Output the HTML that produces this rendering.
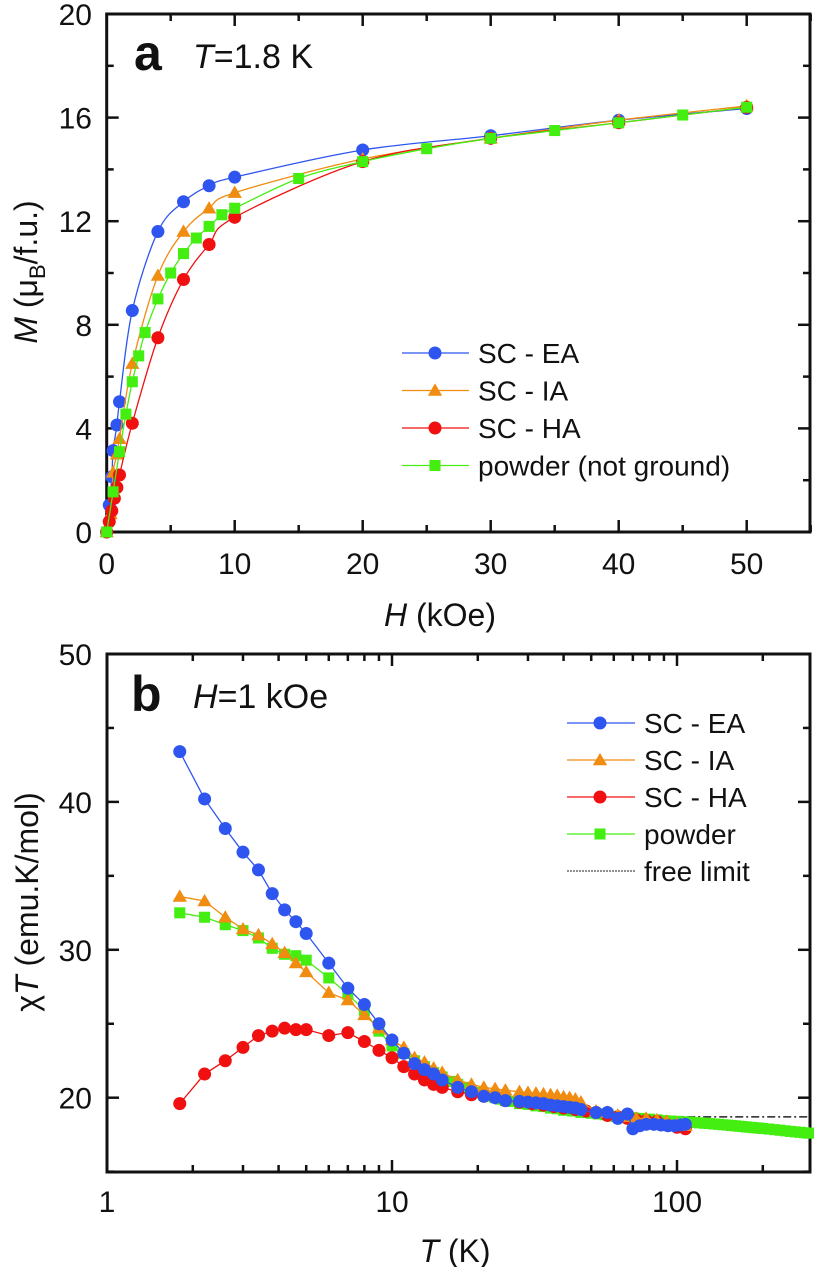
<!DOCTYPE html>
<html><head><meta charset="utf-8"><style>
html,body{margin:0;padding:0;background:#fff;}
svg{display:block;font-family:"Liberation Sans",Arial,sans-serif;}
</style></head><body>
<svg id="chart" width="814" height="1267" viewBox="0 0 814 1267">
<g id="pa"></g>
<g id="pb"></g>
</svg>
<script>
// ---- Panel a data: M vs H at 1.8 K ----
const aEA_H=[0,0.2,0.4,0.5,0.8,1,2,4,6,8,10,20,30,40,50];
const aEA_M=[0,1.04,2.13,3.14,4.13,5.03,8.55,11.6,12.75,13.37,13.7,14.75,15.3,15.9,16.35];
const aIA_H=[0,0.3,0.5,0.8,1,2,4,6,8,10,20,30,40,50];
const aIA_M=[0,0.7,2.3,3.0,3.6,6.5,9.9,11.6,12.5,13.1,14.4,15.2,15.9,16.45];
const aHA_H=[0,0.2,0.4,0.6,0.8,1,2,4,6,8,10,20,30,40,50];
const aHA_M=[0,0.4,0.82,1.3,1.72,2.2,4.2,7.5,9.75,11.1,12.15,14.3,15.2,15.8,16.4];
const aPW_H=[0,0.5,1,1.5,2,2.5,3,4,5,6,7,8,9,10,15,20,25,30,35,40,45,50];
const aPW_M=[0,1.55,3.1,4.55,5.8,6.8,7.7,9.0,10.0,10.75,11.35,11.8,12.25,12.5,13.65,14.3,14.8,15.2,15.5,15.8,16.1,16.4];
const aXTicks=[0,10,20,30,40,50];
const aYTicks=[0,4,8,12,16,20];
// ---- Panel b data: chiT vs T at 1 kOe ----
const bEA_T=[1.8,2.2,2.6,3,3.4,3.8,4.2,4.6,5,6,7,8,9,10,11,12,13,14,15,17,19,21,23,25,28,30,32,34,36,38,40,42,44,46,52,57,62,67,70,74,78,83,88,93,98,103,107];
const bEA_V=[43.4,40.2,38.2,36.6,35.4,33.8,32.7,31.9,31.1,29.1,27.4,26.3,25.0,23.9,23.0,22.3,21.9,21.6,21.2,20.7,20.4,20.1,20.0,19.8,19.75,19.7,19.65,19.6,19.5,19.45,19.4,19.35,19.3,19.2,19.0,19.0,18.6,18.9,17.9,18.1,18.2,18.2,18.15,18.1,18.1,18.15,18.2];
const bIA_T=[1.8,2.2,2.6,3,3.4,3.8,4.2,4.6,5,6,7,8,9,10,11,12,13,14,15,17,19,21,23,25,28,30,32,34,36,38,40,42,44,46,52,57,62,67,72,78,85,92,100,107];
const bIA_V=[33.6,33.3,32.2,31.4,31.0,30.4,29.8,29.1,28.5,27.1,26.6,25.6,24.7,23.9,23.4,22.7,22.4,22.0,21.7,21.2,20.9,20.7,20.6,20.5,20.4,20.35,20.3,20.25,20.2,20.15,20.05,20.0,19.9,19.7,19.1,19.0,18.8,18.7,18.6,18.6,18.5,18.4,18.2,18.1];
const bHA_T=[1.8,2.2,2.6,3,3.4,3.8,4.2,4.6,5,6,7,8,9,10,11,12,13,14,15,17,19,21,25,28,31,34,37,40,44,48,52,57,62,67,72,78,85,92,100,107];
const bHA_V=[19.6,21.6,22.5,23.4,24.2,24.5,24.7,24.6,24.6,24.2,24.4,23.8,23.2,22.7,22.1,21.6,21.2,20.9,20.7,20.4,20.2,20.1,19.8,19.7,19.6,19.5,19.4,19.3,19.2,19.1,19.0,18.8,18.7,18.6,18.5,18.45,18.4,18.2,18.0,17.9];
const bPW_T=[1.8,2.2,2.6,3,3.4,3.8,4.2,4.6,5,6,7,8,9,10,11,12,13,14,15,16,17,18,19,20,21,22,23,24,25,26,28,30,32,34,36,38,40,43,46,50,53,56,60,65,70,75,80,85,90,95,100,105,110,115,120,125,130,135,140,145,150,155,160,165,170,175,180,185,190,195,200,210,220,230,240,250,260,270,280,290];
const bPW_V=[32.5,32.2,31.7,31.3,30.8,30.1,29.7,29.6,29.3,28.1,27.0,25.9,24.5,23.5,23.0,22.5,22.1,21.7,21.4,21.1,20.9,20.7,20.5,20.35,20.2,20.1,20.0,19.9,19.8,19.75,19.6,19.55,19.45,19.4,19.3,19.25,19.15,19.1,19.0,18.95,18.9,18.85,18.75,18.7,18.65,18.6,18.55,18.5,18.45,18.42,18.4,18.37,18.35,18.32,18.3,18.27,18.25,18.22,18.2,18.17,18.15,18.12,18.1,18.07,18.05,18.02,18.0,17.98,17.96,17.94,17.92,17.88,17.84,17.8,17.76,17.72,17.69,17.66,17.63,17.6];
const bFree_T=[50,293];
const bFree_V=[18.7,18.7];
const bYTicks=[20,30,40,50];
const bXTicks=[1,10,100];

const NS="http://www.w3.org/2000/svg";
function mk(tag,attrs,parent){const e=document.createElementNS(NS,tag);for(const k in attrs)e.setAttribute(k,attrs[k]);parent.appendChild(e);return e;}
const BLUE="#2f55f0",ORANGE="#f08c10",RED="#f01010",GREEN="#44ee10";

const ax=h=>106.7+h*12.8;
const ay=m=>532-m*25.9;
const bx=t=>107+Math.log10(t)*285;
const by=v=>1097.7-(v-20)*14.79;

function marker(g,shape,x,y,color,s){
  let e;
  if(shape==="circle"){e=mk("circle",{cx:x,cy:y,r:s,fill:color},g);}
  else if(shape==="square"){e=mk("rect",{x:x-s*0.85,y:y-s*0.85,width:s*1.7,height:s*1.7,fill:color},g);}
  else {e=mk("polygon",{points:`${x},${y-s*1.1} ${x+s*1.1},${y+s*0.8} ${x-s*1.1},${y+s*0.8}`,fill:color},g);}
  return e;
}
function smoothPath(pts){
  let d=`M${pts[0][0]},${pts[0][1]}`;
  for(let i=0;i<pts.length-1;i++){
    const p0=pts[Math.max(0,i-1)],p1=pts[i],p2=pts[i+1],p3=pts[Math.min(pts.length-1,i+2)];
    const c1x=p1[0]+(p2[0]-p0[0])/6,c1y=p1[1]+(p2[1]-p0[1])/6;
    const c2x=p2[0]-(p3[0]-p1[0])/6,c2y=p2[1]-(p3[1]-p1[1])/6;
    d+=` C${c1x},${c1y} ${c2x},${c2y} ${p2[0]},${p2[1]}`;
  }
  return d;
}
function series(g,name,xs,ys,fx,fy,color,shape,smooth){
  const sg=mk("g",{},g);
  
  
  const pts=xs.map((x,i)=>[fx(x),fy(ys[i])]);
  const d=smooth?smoothPath(pts):"M"+pts.map(p=>p.join(",")).join(" L");
  const ln=mk("path",{d:d,fill:"none",stroke:color,"stroke-width":1.3},sg);
  
  
  pts.forEach(p=>{
    const m=marker(sg,shape,p[0],p[1],color,6.5);
    
    
  });
}
function text(g,x,y,str,size,anchor,name,extra){
  const t=mk("text",Object.assign({x:x,y:y,"font-size":size,"text-anchor":anchor||"start",fill:"#111"},extra||{}),g);
  t.innerHTML=str;
  
  
  return t;
}

// ===== Panel a =====
const pa=document.getElementById("pa");
const L=106.7,R=810;
const fa=mk("rect",{x:L,y:14,width:R-L,height:532-14,fill:"none",stroke:"#111","stroke-width":3},pa);

for(let h=0;h<=55;h+=5){const len=(h%10===0)?12:7;const x=ax(h);
  mk("line",{x1:x,y1:532,x2:x,y2:532-len,stroke:"#111","stroke-width":2.5},pa);
  mk("line",{x1:x,y1:14,x2:x,y2:14+len,stroke:"#111","stroke-width":2.5},pa);}
for(let m=0;m<=20;m+=2){const len=(m%4===0)?12:7;const y=ay(m);
  mk("line",{x1:L,y1:y,x2:L+len,y2:y,stroke:"#111","stroke-width":2.5},pa);
  mk("line",{x1:R,y1:y,x2:R-len,y2:y,stroke:"#111","stroke-width":2.5},pa);}
aXTicks.forEach(h=>text(pa,ax(h),574,String(h),30,"middle","x-tick-label-a"));
aYTicks.forEach(m=>text(pa,92,ay(m)+11,String(m),30,"end","y-tick-label-a"));
text(pa,440,626,'<tspan font-style="italic">H</tspan> (kOe)',32,"middle","x-axis-title-a");
text(pa,0,0,'<tspan font-style="italic">M</tspan> (μ<tspan font-size="22" dy="8">B</tspan><tspan dy="-8">/f.u.)</tspan>',32,"middle","y-axis-title-a",{transform:"translate(37,272) rotate(-90)"});
text(pa,134,70,"a",50,"start","panel-a-label",{"font-weight":"bold"});
text(pa,193,68,'<tspan font-style="italic">T</tspan>=1.8 K',34,"start","panel-a-condition");
series(pa,"series-a-ea",aEA_H,aEA_M,ax,ay,BLUE,"circle",true);
series(pa,"series-a-ia",aIA_H,aIA_M,ax,ay,ORANGE,"tri",true);
series(pa,"series-a-ha",aHA_H,aHA_M,ax,ay,RED,"circle",true);
series(pa,"series-a-powder",aPW_H,aPW_M,ax,ay,GREEN,"square",true);
const legA=[["SC - EA",BLUE,"circle"],["SC - IA",ORANGE,"tri"],["SC - HA",RED,"circle"],["powder (not ground)",GREEN,"square"]];
legA.forEach((it,i)=>{const y=353+i*37.5;const g=mk("g",{},pa);
  
  mk("line",{x1:402,y1:y,x2:469,y2:y,stroke:it[1],"stroke-width":1.3},g);
  marker(g,it[2],435,y,it[1],6.5);
  text(g,478,y+10,it[0],28,"start","legend-a-label");});

// ===== Panel b =====
const pb=document.getElementById("pb");
const T=654,B=1172;
const fb=mk("rect",{x:107,y:T,width:R-107,height:B-T,fill:"none",stroke:"#111","stroke-width":3},pb);

for(let v=15;v<=50;v+=5){const len=(v%10===0)?12:7;const y=by(v);
  mk("line",{x1:107,y1:y,x2:107+len,y2:y,stroke:"#111","stroke-width":2.5},pb);
  mk("line",{x1:R,y1:y,x2:R-len,y2:y,stroke:"#111","stroke-width":2.5},pb);}
for(let dec=1;dec<=100;dec*=10){for(let k=1;k<=9;k++){const t=dec*k;if(t>293)break;const x=bx(t);const len=k===1?12:7;
  mk("line",{x1:x,y1:B,x2:x,y2:B-len,stroke:"#111","stroke-width":2.5},pb);
  mk("line",{x1:x,y1:T,x2:x,y2:T+len,stroke:"#111","stroke-width":2.5},pb);}}
bXTicks.forEach(t=>text(pb,bx(t),1212,String(t),30,"middle","x-tick-label-b"));
bYTicks.forEach(v=>text(pb,92,by(v)+11,String(v),30,"end","y-tick-label-b"));
text(pb,455,1262,'<tspan font-style="italic">T</tspan> (K)',32,"middle","x-axis-title-b");
text(pb,0,0,'χ<tspan font-style="italic">T</tspan> (emu.K/mol)',32,"middle","y-axis-title-b",{transform:"translate(38,902) rotate(-90)"});
text(pb,131,711,"b",50,"start","panel-b-label",{"font-weight":"bold"});
text(pb,193,708,'<tspan font-style="italic">H</tspan>=1 kOe',34,"start","panel-b-condition");
const fl=mk("path",{d:`M${bx(bFree_T[0])},${by(bFree_V[0])} L${bx(bFree_T[1])},${by(bFree_V[1])}`,stroke:"#222","stroke-width":1.5,"stroke-dasharray":"8 3 2 3",fill:"none"},pb);

series(pb,"series-b-powder",bPW_T,bPW_V,bx,by,GREEN,"square",false);
series(pb,"series-b-ha",bHA_T,bHA_V,bx,by,RED,"circle",false);
series(pb,"series-b-ia",bIA_T,bIA_V,bx,by,ORANGE,"tri",false);
series(pb,"series-b-ea",bEA_T,bEA_V,bx,by,BLUE,"circle",false);
const legB=[["SC - EA",BLUE,"circle"],["SC - IA",ORANGE,"tri"],["SC - HA",RED,"circle"],["powder",GREEN,"square"],["free limit","#222","none"]];
legB.forEach((it,i)=>{const y=723+i*37;const g=mk("g",{},pb);
  
  if(it[2]==="none"){mk("line",{x1:567,y1:y,x2:635,y2:y,stroke:it[1],"stroke-width":1,"stroke-dasharray":"2 1"},g);}
  else{mk("line",{x1:567,y1:y,x2:635,y2:y,stroke:it[1],"stroke-width":1.3},g);marker(g,it[2],600,y,it[1],6.5);}
  text(g,644,y+10,it[0],28,"start","legend-b-label");});
</script>
</body></html>
